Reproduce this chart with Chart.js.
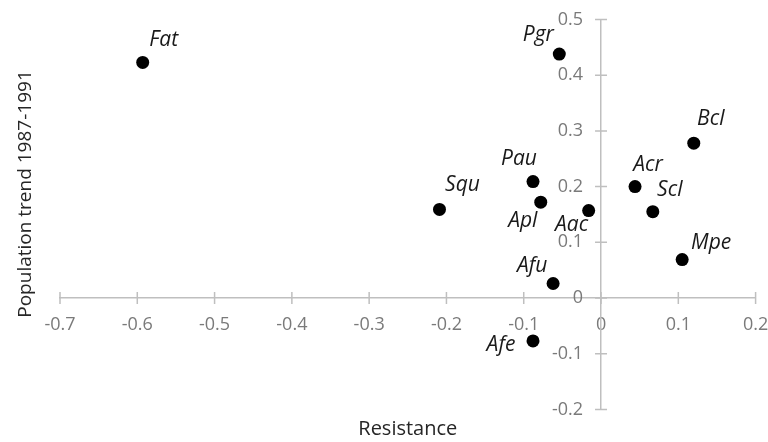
<!DOCTYPE html>
<html>
<head>
<meta charset="utf-8">
<script src="https://cdn.jsdelivr.net/npm/chart.js@4"></script>
<style>
  html, body { margin: 0; padding: 0; background: #ffffff; }
  #wrap { width: 768px; height: 442px; position: relative; }
</style>
</head>
<body>
<div id="wrap"><canvas id="c"></canvas></div>
<script>
// ---- data ----
const species = ['Fat', 'Pgr', 'Bcl', 'Acr', 'Pau', 'Squ', 'Apl', 'Aac', 'Scl', 'Mpe', 'Afu', 'Afe'];
const resistance = [-0.593, -0.054, 0.120, 0.044, -0.088, -0.209, -0.078, -0.016, 0.067, 0.105, -0.062, -0.088];
const popTrend = [0.423, 0.438, 0.278, 0.200, 0.209, 0.159, 0.172, 0.157, 0.155, 0.069, 0.026, -0.077];
const xTickRange = [-0.7, 0.2];
const yTickRange = [-0.2, 0.5];
const xTitle = 'Resistance';
const yTitle = 'Population trend 1987-1991';

// ---- label placement (pixel offsets from each point, styling only) ----
const labelOffsets = [
  [21, -22], [-21, -19], [17, -24], [13, -22], [-14, -23], [23, -24],
  [-18, 19], [-17, 14], [17, -22], [29, -17], [-21, -18], [-32, 4]
];

const FONT = "'Open Sans', 'Noto Sans', sans-serif";
const AXIS_COLOR = '#bfbfbf';
const Y_LABEL_GAP = 18;

const points = species.map((s, i) => ({ x: resistance[i], y: popTrend[i], label: s }));

const fmt = v => (Math.abs(v) < 1e-9 ? '0' : Number(v).toFixed(1));
const noMargins = scale => {
  scale.paddingLeft = 0; scale.paddingRight = 0;
  scale.paddingTop = 0; scale.paddingBottom = 0;
};

// y tick labels: move them left of the axis line (positioned axes ignore ticks.padding)
const yLabelGap = {
  id: 'yLabelGap',
  beforeDraw(chart) {
    const ys = chart.scales.y;
    const items = ys.getLabelItems();
    items.forEach(it => {
      if (!it._gapApplied) {
        it.options.translation[0] -= Y_LABEL_GAP;
        it._gapApplied = true;
      }
    });
  }
};

const crossTicks = {
  id: 'crossTicks',
  afterDraw(chart) {
    const ctx = chart.ctx;
    const xs = chart.scales.x, ys = chart.scales.y;
    const y0 = ys.getPixelForValue(0), x0 = xs.getPixelForValue(0);
    ctx.save();
    ctx.strokeStyle = AXIS_COLOR;
    ctx.lineWidth = 1.5;
    ctx.beginPath();
    xs.ticks.forEach(t => {
      const px = xs.getPixelForValue(t.value);
      ctx.moveTo(px, y0 - 6); ctx.lineTo(px, y0 + 6);
    });
    ys.ticks.forEach(t => {
      const py = ys.getPixelForValue(t.value);
      ctx.moveTo(x0 - 6, py); ctx.lineTo(x0 + 6, py);
    });
    ctx.stroke();
    ctx.restore();
  }
};

const pointLabels = {
  id: 'pointLabels',
  afterDatasetsDraw(chart) {
    const ctx = chart.ctx;
    const meta = chart.getDatasetMeta(0);
    ctx.save();
    ctx.font = "italic 21px " + FONT;
    ctx.fillStyle = '#1a1a1a';
    ctx.textAlign = 'center';
    ctx.textBaseline = 'middle';
    meta.data.forEach((el, i) => {
      const off = labelOffsets[i];
      ctx.fillText(species[i], el.x + off[0], el.y + off[1]);
    });
    ctx.restore();
  }
};

const axisTitles = {
  id: 'axisTitles',
  afterDraw(chart) {
    const ctx = chart.ctx;
    const ca = chart.chartArea;
    ctx.save();
    ctx.fillStyle = '#262626';
    ctx.textAlign = 'center';
    ctx.textBaseline = 'middle';
    ctx.font = "20px " + FONT;
    ctx.fillText(xTitle, (ca.left + ca.right) / 2, ca.bottom + 20);
    ctx.font = "19px " + FONT;
    ctx.translate(26, 194);
    ctx.rotate(-Math.PI / 2);
    ctx.fillText(yTitle, 0, 0);
    ctx.restore();
  }
};

new Chart(document.getElementById('c'), {
  type: 'scatter',
  data: {
    datasets: [{
      label: 'Species',
      data: points,
      backgroundColor: '#000000',
      borderColor: '#000000',
      pointRadius: 6.5,
      pointHoverRadius: 6.5,
      borderWidth: 0
    }]
  },
  options: {
    responsive: true,
    maintainAspectRatio: false,
    animation: false,
    events: [],
    layout: { padding: { left: 60, right: 12.4, top: 19.5, bottom: 32.6 } },
    plugins: {
      legend: { display: false },
      tooltip: { enabled: false }
    },
    scales: {
      x: {
        type: 'linear',
        position: { y: 0 },
        min: xTickRange[0],
        max: xTickRange[1],
        afterFit: noMargins,
        ticks: {
          stepSize: 0.1,
          padding: 16,
          color: '#7a7a7a',
          font: { family: FONT, size: 18 },
          maxRotation: 0,
          autoSkip: false,
          callback: v => fmt(v)
        },
        grid: { display: true, drawOnChartArea: false, drawTicks: false },
        border: { display: true, color: AXIS_COLOR, width: 1.5 }
      },
      y: {
        type: 'linear',
        position: { x: 0 },
        min: yTickRange[0],
        max: yTickRange[1],
        afterFit: noMargins,
        ticks: {
          stepSize: 0.1,
          padding: 0,
          color: '#7a7a7a',
          font: { family: FONT, size: 18 },
          autoSkip: false,
          callback: v => fmt(v)
        },
        grid: { display: true, drawOnChartArea: false, drawTicks: false },
        border: { display: true, color: AXIS_COLOR, width: 1.5 }
      }
    }
  },
  plugins: [yLabelGap, crossTicks, pointLabels, axisTitles]
});
</script>
</body>
</html>
